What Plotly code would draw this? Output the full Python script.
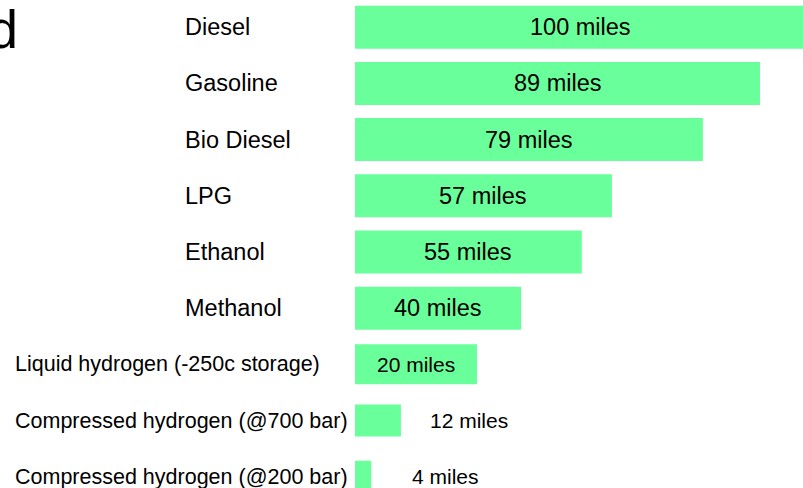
import plotly.graph_objects as go

# ---- data ----
fuels = ["Diesel", "Gasoline", "Bio Diesel", "LPG", "Ethanol", "Methanol",
         "Liquid hydrogen (-250c storage)", "Compressed hydrogen (@700 bar)",
         "Compressed hydrogen (@200 bar)"]
range_miles = [100, 89, 79, 57, 55, 40, 20, 12, 4]          # label values
bar_length = [100, 90.0, 77.3, 57.1, 50.4, 36.9, 27.1, 10.2, 3.6]  # drawn length
title_text = "d"

# ---- styles ----
GREEN = "#69ff9b"
FONT = "Liberation Sans, Arial, Helvetica, sans-serif"
W, H = 803, 488
bar_thickness = [0.765, 0.765, 0.765, 0.765, 0.765, 0.765, 0.712, 0.57, 0.57]
label_left_px = [182.5] * 6 + [13] * 3
label_size = [23.5] * 6 + [21.5] * 3
value_inside = [True] * 7 + [False] * 2
value_size = [23.5] * 6 + [21] * 3
value_gap_px = [0] * 7 + [27, 39]

fig = go.Figure(go.Bar(
    x=bar_length, y=fuels, orientation="h", width=bar_thickness,
    marker=dict(color=GREEN, line=dict(width=0)), hoverinfo="skip",
))

ann = []
for i, f in enumerate(fuels):
    ann.append(dict(x=label_left_px[i] / W, xref="paper", y=f, yref="y",
                    text=f, showarrow=False, xanchor="left", yanchor="middle",
                    font=dict(family=FONT, size=label_size[i], color="black")))
    if value_inside[i]:
        ann.append(dict(x=bar_length[i] / 2, xref="x", y=f, yref="y",
                        text=f"{range_miles[i]} miles", showarrow=False,
                        xanchor="center", yanchor="middle",
                        font=dict(family=FONT, size=value_size[i], color="black")))
    else:
        ann.append(dict(x=bar_length[i], xref="x", y=f, yref="y",
                        text=f"{range_miles[i]} miles", showarrow=False,
                        xanchor="left", yanchor="middle", xshift=value_gap_px[i],
                        font=dict(family=FONT, size=value_size[i], color="black")))

ann.append(dict(x=20 / W, xref="paper", y=1, yref="paper", yshift=3,
                text=title_text, showarrow=False, xanchor="right", yanchor="top",
                font=dict(family=FONT, size=54, color="black")))

px_per_unit = 4.5
fig.update_layout(
    width=W, height=H, margin=dict(l=0, r=0, t=0, b=0),
    paper_bgcolor="white", plot_bgcolor="white", showlegend=False,
    xaxis=dict(range=[-355 / px_per_unit, (W - 355) / px_per_unit], visible=False),
    yaxis=dict(type="category", range=[(H - 27.2) / 56.19, -27.2 / 56.19],
               visible=False),
    annotations=ann,
)
fig.write_html("out.html", config={"displayModeBar": False},
               post_script="document.body.style.margin='0';"
                           "document.body.style.padding='0';"
                           "document.body.style.overflow='hidden';")
